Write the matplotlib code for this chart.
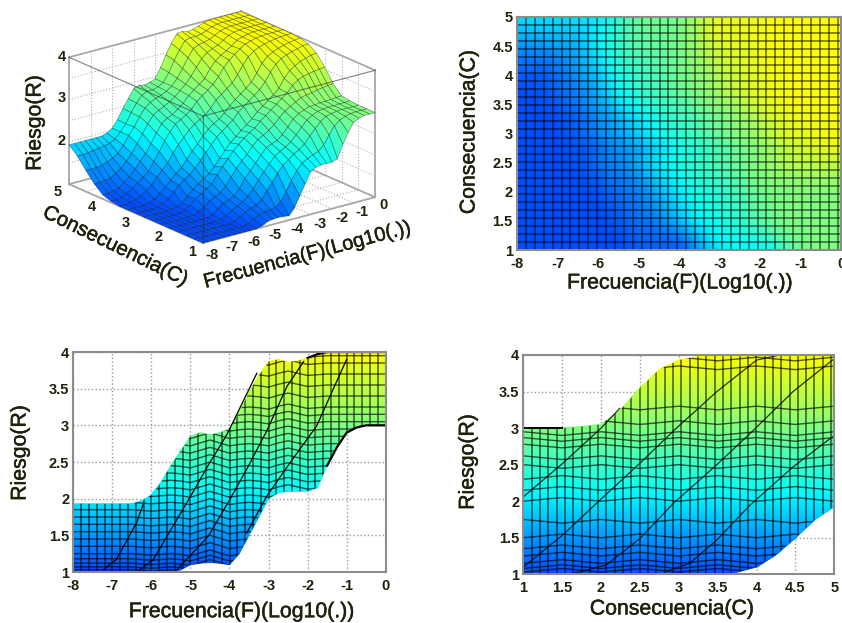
import numpy as np
import matplotlib
matplotlib.use("Agg")
import matplotlib.pyplot as plt
import matplotlib.patheffects as pe
from matplotlib.colors import LinearSegmentedColormap, Normalize
from matplotlib.patches import Polygon
from mpl_toolkits.mplot3d import proj3d

plt.rcParams['font.family'] = ['Liberation Sans', 'DejaVu Sans']

W, H = 842, 623

frecuencia = [-8, -7.75, -7.5, -7.25, -7, -6.75, -6.5, -6.25, -6, -5.75, -5.5, -5.25, -5, -4.75, -4.5, -4.25, -4,
              -3.75, -3.5, -3.25, -3, -2.75, -2.5, -2.25, -2, -1.75, -1.5, -1.25, -1, -0.75, -0.5, -0.25, 0]
consecuencia = [1, 1.25, 1.5, 1.75, 2, 2.25, 2.5, 2.75, 3, 3.25, 3.5, 3.75, 4, 4.25, 4.5, 4.75, 5]

# one row per consecuencia, one value per frecuencia
riesgo = [
    [1.00]*11 + [1.03,1.10,1.12,1.13,1.12,1.10,1.25,1.50,1.75,2.00,2.08,2.10,2.10,2.10,2.15,2.45,2.70,2.90,2.97,3.00,3.00,3.00],
    [1.00]*10 + [1.03,1.10,1.17,1.20,1.22,1.25,1.35,1.55,1.78,1.98,2.12,2.20,2.25,2.30,2.42,2.62,2.80,2.90,2.96,2.99,3.00,3.00,3.00],
    [1.00]*9 + [1.03,1.10,1.18,1.24,1.28,1.38,1.55,1.72,1.90,2.05,2.15,2.25,2.32,2.42,2.58,2.72,2.85,2.94,2.97,2.99,3.00,3.00,3.00,3.00],
    [1.00]*8 + [1.02,1.08,1.17,1.24,1.30,1.40,1.55,1.72,1.88,2.03,2.18,2.26,2.33,2.42,2.55,2.70,2.83,2.91,2.97,2.99,3.00,3.00,3.01,3.01,3.02],
    [1.00]*8 + [1.05,1.15,1.25,1.30,1.35,1.50,1.70,1.85,2.00,2.15,2.30,2.35,2.40,2.50,2.65,2.80,2.90,2.95,3.00,3.00,3.02,3.02,3.03,3.04,3.05],
    [1.00]*6 + [1.02,1.07,1.15,1.25,1.32,1.38,1.50,1.68,1.85,2.00,2.12,2.28,2.40,2.47,2.55,2.65,2.78,2.90,2.98,3.05,3.12,3.15,3.17,3.20,3.22,3.24,3.25],
    [1.00]*5 + [1.02,1.05,1.12,1.25,1.33,1.42,1.50,1.68,1.85,2.00,2.15,2.27,2.38,2.48,2.55,2.68,2.78,2.88,2.98,3.08,3.18,3.32,3.42,3.47,3.50,3.52,3.54,3.55],
    [1.00]*4 + [1.00,1.02,1.05,1.10,1.22,1.35,1.45,1.53,1.62,1.75,1.92,2.07,2.22,2.33,2.44,2.54,2.65,2.78,2.88,2.98,3.08,3.20,3.40,3.55,3.63,3.70,3.74,3.78,3.80],
    [1.00]*4 + [1.02,1.06,1.14,1.27,1.40,1.50,1.58,1.70,1.85,2.00,2.15,2.30,2.40,2.50,2.60,2.75,2.85,2.95,3.05,3.15,3.30,3.50,3.65,3.75,3.80,3.85,3.88,3.92,3.93],
    [1.00]*3 + [1.00,1.03,1.08,1.18,1.30,1.43,1.55,1.66,1.82,1.98,2.12,2.27,2.40,2.50,2.57,2.68,2.82,2.93,3.03,3.13,3.24,3.42,3.62,3.75,3.82,3.87,3.91,3.94,3.96,3.98],
    [1.00]*2 + [1.02,1.05,1.10,1.20,1.30,1.45,1.58,1.72,1.92,2.08,2.22,2.36,2.47,2.54,2.62,2.74,2.90,3.00,3.10,3.20,3.36,3.56,3.72,3.82,3.88,3.92,3.95,3.97,3.99,4.00,4.00],
    [1.03,1.03,1.05,1.10,1.20,1.30,1.40,1.50,1.70,1.90,2.12,2.30,2.45,2.52,2.60,2.70,2.85,2.95,3.05,3.15,3.30,3.48,3.62,3.72,3.82,3.90,3.94,3.97,3.99,4.00,4.00,4.00,4.00],
    [1.10,1.10,1.12,1.15,1.25,1.35,1.50,1.65,1.80,2.00,2.22,2.40,2.50,2.55,2.65,2.75,2.90,3.00,3.10,3.20,3.40,3.55,3.65,3.72,3.80,3.90,3.95,3.98,4.00,4.00,4.00,4.00,4.00],
    [1.27,1.27,1.28,1.30,1.38,1.47,1.60,1.75,1.95,2.15,2.35,2.52,2.60,2.66,2.73,2.82,2.93,3.05,3.20,3.38,3.55,3.66,3.72,3.77,3.85,3.93,3.97,3.99,4.00,4.00,4.00,4.00,4.00],
    [1.50,1.50,1.50,1.52,1.56,1.62,1.70,1.85,2.05,2.22,2.43,2.60,2.70,2.76,2.80,2.86,2.95,3.10,3.30,3.52,3.70,3.76,3.78,3.82,3.88,3.95,3.98,4.00,4.00,4.00,4.00,4.00,4.00],
    [1.75,1.75,1.76,1.78,1.80,1.82,1.85,1.92,2.05,2.21,2.44,2.63,2.78,2.84,2.84,2.88,2.95,3.15,3.40,3.62,3.80,3.84,3.83,3.86,3.90,3.96,3.99,4.00,4.00,4.00,4.00,4.00,4.00],
    [1.93]*7 + [1.97,2.05,2.22,2.45,2.65,2.85,2.90,2.87,2.90,2.95,3.18,3.45,3.68,3.87,3.90,3.86,3.88,3.92,3.97,4.00,4.00,4.00,4.00,4.00,4.00,4.00],
]

# dark diagonal creases seen side on
diag3 = [
    ([-7.23, -6.9, -6.38, -6.2], [1.03, 1.17, 1.67, 1.94]),
    ([-6.3, -5.95, -5.0, -4.54, -4.07, -3.3], [1.03, 1.17, 2.03, 2.46, 2.87, 3.71]),
    ([-5.35, -4.54, -3.99, -3.56, -3.05, -2.53, -2.1], [1.03, 1.49, 1.99, 2.4, 2.92, 3.53, 3.87]),
    ([-3.56, -3.05, -2.45, -1.77, -1.0], [1.53, 2.03, 2.49, 2.99, 3.9]),
]
diag4 = [
    ([1, 1.51, 2, 2.24], [2.06, 2.52, 3.0, 3.27]),
    ([1, 1.51, 1.92, 2.5, 2.97, 3.49, 4, 4.3], [1.1, 1.54, 1.95, 2.52, 3.0, 3.5, 3.93, 4.0]),
    ([1.64, 2.07, 2.5, 2.93, 3.49, 3.96, 4.47, 5], [1.01, 1.13, 1.49, 1.97, 2.5, 2.97, 3.5, 3.95]),
    ([2.84, 3.14, 3.49, 3.92, 4.47, 5], [1.04, 1.15, 1.47, 1.95, 2.47, 2.9]),
]

# wavy cross lines of the side views, wave has one value per frecuencia
cross3_wave = [0, 0, 0, 0, 0, 0, 0, -0.01, -0.02, -0.01, 0, -0.01, -0.03, 0.01, 0.05, 0.01, -0.03, -0.01, 0, -0.01,
               -0.03, 0.01, 0.04, 0.01, -0.02, -0.01, 0, 0, 0, 0, 0, 0, 0]
cross3_levels = [1.03, 1.07, 1.12, 1.18, 1.25, 1.35, 1.45, 1.55, 1.65, 1.75, 1.85, 1.95, 2.05, 2.15, 2.25,
                 2.35, 2.45, 2.55, 2.65, 2.75, 2.85, 2.95, 3.05, 3.15, 3.25, 3.4, 3.55, 3.7, 3.85, 3.95]
cross4_c = [1, 1.5, 2, 2.5, 3, 3.5, 4, 4.5, 5]
cross4_wave = [0, 0.05, 0, 0.05, 0, 0.05, 0, 0.05, 0]
cross4_levels_up = [1.03, 1.08, 1.15, 1.25, 1.35, 1.5, 2.0, 2.15, 2.3]
cross4_levels_down = [1.75, 2.5, 2.62, 2.78, 2.87, 2.95, 3.1, 3.3, 3.85, 3.97]

ticks_f = [-8, -7, -6, -5, -4, -3, -2, -1, 0]
ticks_half = [1, 1.5, 2, 2.5, 3, 3.5, 4, 4.5, 5]
ticks_r = [1, 1.5, 2, 2.5, 3, 3.5, 4]
half_labels = ['1', '1.5', '2', '2.5', '3', '3.5', '4', '4.5', '5']
r_labels = ['1', '1.5', '2', '2.5', '3', '3.5', '4']

F = np.array(frecuencia)
C = np.array(consecuencia)
Z = np.array(riesgo)
X, Y = np.meshgrid(F, C)

cmap = LinearSegmentedColormap.from_list('riesgo', [
    (0.0, (0.0, 0.3, 1.0)), (0.17, (0.0, 0.6, 1.0)), (0.37, (0.0, 1.0, 1.0)),
    (0.67, (0.5, 1.0, 0.5)), (1.0, (1.0, 1.0, 0.0))])
norm = Normalize(1, 4)

TXT = '#20200c'
GRAY = '#8c8c8c'
HEAVY = [pe.withStroke(linewidth=0.35, foreground=TXT)]

fig = plt.figure(figsize=(W/100, H/100), dpi=100)


def rect(l, t, r, b):
    return [l/W, 1-b/H, (r-l)/W, (b-t)/H]


def ftext(x, y, s, **kw):
    kw.setdefault('ha', 'center')
    kw.setdefault('va', 'center')
    kw.setdefault('color', TXT)
    fig.text(x/W, 1-y/H, s, **kw)


def label(x, y, s, size=15.3, rotation=0):
    ftext(x, y, s, fontsize=size, rotation=rotation, rotation_mode='anchor', path_effects=HEAVY)


def style(ax, xt, xl, yt, yl):
    ax.set_xticks(xt, xl, fontsize=10.5, fontweight='bold', color=TXT)
    ax.set_yticks(yt, yl, fontsize=10.5, fontweight='bold', color=TXT)
    ax.tick_params(axis='x', length=0, pad=5)
    ax.tick_params(axis='y', length=0, pad=3)
    for s in ax.spines.values():
        s.set_color(GRAY)
        s.set_linewidth(1.5)


def band_clip(ax, xs, low, high):
    verts = np.r_[np.c_[xs, low], np.c_[xs[::-1], high[::-1]]]
    return ax.add_patch(Polygon(verts, closed=True, fill=False, edgecolor='none', transform=ax.transData))


# top right, seen from above
ax2 = fig.add_axes(rect(517, 17, 841, 250))
ax2.pcolormesh(F, C, Z, cmap=cmap, norm=norm, shading='gouraud')
ax2.vlines(np.arange(-8, 0.01, 0.22), 1, 5, color='k', lw=1.1, alpha=0.6)
ax2.hlines(np.linspace(1, 5, 30), -8, 0, color='k', lw=1.1, alpha=0.6)
ax2.set_xlim(-8, 0)
ax2.set_ylim(1, 5)
style(ax2, ticks_f, [str(v) for v in ticks_f], ticks_half, half_labels)
label(680, 283, 'Frecuencia(F)(Log10(.))')
label(469, 132, 'Consecuencia(C)', rotation=90)

# bottom left, riesgo against frecuencia
ax3 = fig.add_axes(rect(73.3, 352, 385.7, 572))
ax3.grid(True, color='#9a9a9a', ls=':', lw=1)
ax3.set_axisbelow(True)
ax3.pcolormesh(np.tile(F, (len(C), 1)), Z, Z, cmap=cmap, norm=norm, shading='gouraud')
clip3 = band_clip(ax3, F, Z[0], Z[-1])
lines = [ax3.vlines(np.arange(-8, 0.01, 0.2), 1, 4, color='k', lw=1.1, alpha=0.65)]
for lev in cross3_levels:
    lines += ax3.plot(F, lev + np.array(cross3_wave), color='k', lw=1.0, alpha=0.65)
for ln in lines:
    ln.set_clip_path(clip3)
for xs, ys in diag3:
    ax3.plot(xs, ys, color='k', lw=0.9)
ax3.plot(F[Z[0] <= 1.0], Z[0][Z[0] <= 1.0], color='k', lw=2)
ax3.plot(F[F >= -1.5], Z[0][F >= -1.5], color='k', lw=1.6)
ax3.plot(F[F >= -2], Z[-1][F >= -2], color='k', lw=1.6)
ax3.set_xlim(-8, 0)
ax3.set_ylim(1, 4)
style(ax3, ticks_f, [str(v) for v in ticks_f], ticks_r, r_labels)
label(241.7, 611.7, 'Frecuencia(F)(Log10(.))')
label(20, 453, 'Riesgo(R)', rotation=90)

# bottom right, riesgo against consecuencia
ax4 = fig.add_axes(rect(523.3, 355, 834.3, 574.3))
ax4.grid(True, color='#9a9a9a', ls=':', lw=1)
ax4.set_axisbelow(True)
ax4.pcolormesh(np.tile(C, (len(F), 1)), Z.T, Z.T, cmap=cmap, norm=norm, shading='gouraud')
clip4 = band_clip(ax4, C, Z[:, 0], Z[:, -1])
lines = [ax4.vlines(np.arange(1, 5.01, 0.107), 1, 4, color='k', lw=1.1, alpha=0.65)]
for lev in cross4_levels_up:
    lines += ax4.plot(cross4_c, lev + np.array(cross4_wave), color='k', lw=1.0, alpha=0.65)
for lev in cross4_levels_down:
    lines += ax4.plot(cross4_c, lev - np.array(cross4_wave), color='k', lw=1.0, alpha=0.65)
for ln in lines:
    ln.set_clip_path(clip4)
for xs, ys in diag4:
    ax4.plot(xs, ys, color='k', lw=0.9, alpha=0.8)
ax4.plot(C[Z[:, 0] <= 1.0], Z[:, 0][Z[:, 0] <= 1.0], color='k', lw=1.8)
ax4.plot(C[Z[:, -1] <= 3.0], Z[:, -1][Z[:, -1] <= 3.0], color='k', lw=1.4)
ax4.set_xlim(1, 5)
ax4.set_ylim(1, 4)
style(ax4, ticks_half, half_labels, ticks_r, r_labels)
label(672, 609, 'Consecuencia(C)')
label(468, 462, 'Riesgo(R)', rotation=90)

# top left, surface
ax1 = fig.add_axes(rect(-100, -100, 540, 540), projection='3d', computed_zorder=False)
ax1.set_proj_type('ortho')
ax1.view_init(elev=20, azim=-127.9)
ax1.set_xlim(-8, 0)
ax1.set_ylim(1, 5)
ax1.set_zlim(1, 4)
aspect = (218, 218, 135)
ax1.set_box_aspect(aspect)
ax1.set_axis_off()
ax1.patch.set_visible(False)
ax1.set_facecolor('none')


def corner_px(xd, yd, zd):
    x2, y2, _ = proj3d.proj_transform(xd, yd, zd, ax1.get_proj())
    return ax1.transData.transform((x2, y2))


# scale and shift the box on to its place in the picture
fig.canvas.draw()
a = corner_px(-8, 5, 1)
b = corner_px(0, 1, 1)
ax1.set_box_aspect(aspect, zoom=306/(b[0]-a[0]))
fig.canvas.draw()
a = corner_px(-8, 1, 1)
pos = ax1.get_position()
ax1.set_position([pos.x0 + (203-a[0])/W, pos.y0 + ((H-243)-a[1])/H, pos.width, pos.height])
fig.canvas.draw()

wall = dict(color='#b0b0b0', lw=0.8, ls=':', zorder=1)
for v in ticks_f[:-1]:
    ax1.plot([v, v], [5, 5], [1, 4], **wall)
    ax1.plot([v, v], [1, 5], [1, 1], **wall)
for v in ticks_half[:-1]:
    ax1.plot([0, 0], [v, v], [1, 4], **wall)
    ax1.plot([-8, 0], [v, v], [1, 1], **wall)
for v in ticks_r[1:-1]:
    ax1.plot([-8, 0], [5, 5], [v, v], **wall)
    ax1.plot([0, 0], [1, 5], [v, v], **wall)
edge = dict(color='#a8a8a8', lw=1.3, zorder=1)
ax1.plot([-8, 0], [5, 5], [4, 4], **edge)
ax1.plot([0, 0], [1, 5], [4, 4], **edge)
ax1.plot([0, 0], [5, 5], [1, 4], **edge)
ax1.plot([-8, -8], [5, 5], [1, 4], **edge)
ax1.plot([0, 0], [1, 1], [1, 4], **edge)
ax1.plot([-8, -8], [1, 5], [1, 1], **edge)
ax1.plot([-8, 0], [1, 1], [1, 1], **edge)
ax1.plot([-8, 0], [5, 5], [1, 1], **edge)
ax1.plot([0, 0], [1, 5], [1, 1], **edge)

ax1.plot_surface(X, Y, Z, cmap=cmap, norm=norm, rstride=1, cstride=1, shade=False,
                 edgecolor=(0, 0, 0, 0.4), linewidth=0.5, zorder=2)
front = dict(color='#303030', lw=0.9, alpha=0.55, zorder=3)
ax1.plot([-8, -8], [1, 5], [4, 4], **front)
ax1.plot([-8, 0], [1, 1], [4, 4], **front)
ax1.plot([-8, -8], [1, 1], [1, 4], **front)

for (px, py), s in zip([(62, 57), (62, 98), (62, 141)], ['4', '3', '2']):
    ftext(px, py, s, fontsize=10.5, fontweight='bold')
for (px, py), s in zip([(58, 192), (92, 207), (126, 223), (159, 237), (192, 252)], ['5', '4', '3', '2', '1']):
    ftext(px, py, s, fontsize=10.5, fontweight='bold')
f_pos = [(212, 255), (232, 247), (254, 242), (275, 235), (297, 229), (320, 224), (342, 218), (362, 212), (383, 205)]
for (px, py), v in zip(f_pos, ticks_f):
    ftext(px, py, str(v), fontsize=10.5, fontweight='bold')
label(35, 123, 'Riesgo(R)', rotation=90)
label(115, 246, 'Consecuencia(C)', size=14.8, rotation=-26)
label(307, 255, 'Frecuencia(F)(Log10(.))', size=14.5, rotation=15)

fig.savefig('out.png', dpi=100)
